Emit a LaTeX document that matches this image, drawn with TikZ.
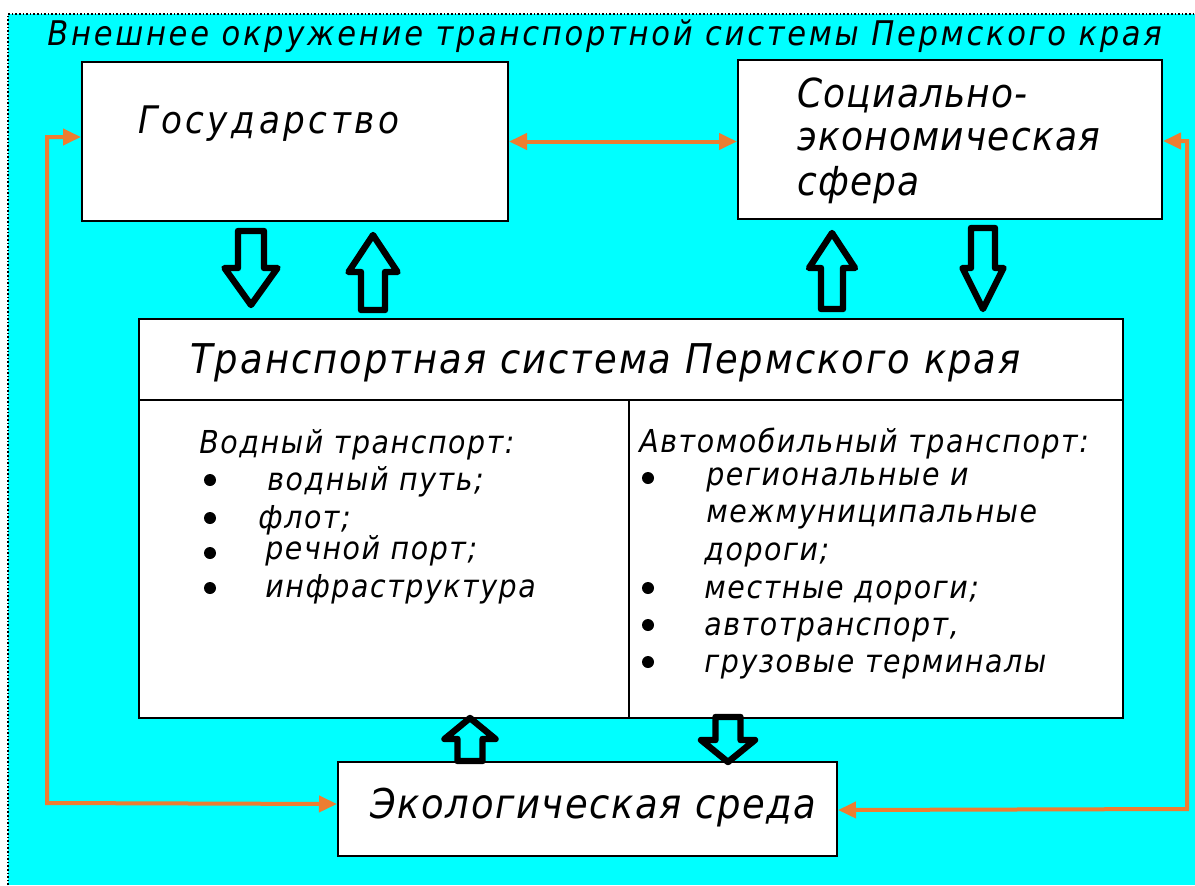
\documentclass[tikz,border=0pt]{standalone}
\usepackage{fontspec}
\newfontfamily\gost{DejaVu Sans Condensed}
\usetikzlibrary{arrows.meta,calc}
\definecolor{bgcyan}{RGB}{0,255,255}
\definecolor{orng}{RGB}{237,125,49}
\newcommand\gt[2]{\gost\itshape\fontsize{#1}{#1}\selectfont\addfontfeatures{LetterSpace=#2}}
\newcommand\blockarrow[6]{%
  \draw[blk] (#1,#2) -- (#1+#3,#4) -- (#1+#5,#4) -- (#1+#5,#6) -- (#1-#5,#6) -- (#1-#5,#4) -- (#1-#3,#4) -- cycle;}
\tikzset{
  box/.style={draw=black, line width=1pt, fill=white, anchor=north west, inner sep=0pt},
  txt/.style={anchor=base west, inner sep=0pt, text=black},
  oarr/.style={draw=orng, line width=2pt, {Triangle[length=9pt,width=8pt]}-{Triangle[length=9pt,width=8pt]}},
  blk/.style={draw=black, line width=3.2pt, line join=round},
  bullet/.style={circle, fill=black, inner sep=0pt, minimum size=6pt},
}
\begin{document}
\begin{tikzpicture}[x=0.5pt,y=-0.5pt]
\useasboundingbox (0,0) rectangle (1195,885);
\fill[bgcyan] (8,14) rectangle (1195,885);
\draw[black, line width=0.8pt, densely dotted] (8,885) -- (8,14) -- (1195,14);

\node[txt] (title) at (47,45) {\gt{17pt}{8}Внешнее окружение транспортной системы Пермского края};

\node[box, minimum width=213pt, minimum height=79.5pt] (gos) at (81,61) {};
\node[txt] (gost) at (138,133) {\gt{19pt}{9.5}Государство};

\node[box, minimum width=212pt, minimum height=79.5pt] (soc) at (737,59) {};
\node[txt] (soc1) at (797,107) {\gt{20pt}{3}Социально-};
\node[txt] (soc2) at (797,150) {\gt{20pt}{3}экономическая};
\node[txt] (soc3) at (797,195) {\gt{20pt}{3}сфера};

\node[box, minimum width=492pt, minimum height=199.5pt] (ts) at (138,318) {};
\draw[black, line width=1pt] (ts.west |- 0,400) -- (ts.east |- 0,400);
\draw[black, line width=1pt] (629,400) -- (629 ,0 |- ts.south);
\node[txt] (tst) at (190,373) {\gt{20.5pt}{5}Транспортная система Пермского края};

\node[txt] (w0) at (199,453) {\gt{15.8pt}{5}Водный транспорт:};
\node[bullet] (wb1) at (210,480) {};
\node[txt] (w1) at (267,490) {\gt{15.8pt}{5}водный путь;};
\node[bullet] (wb2) at (210,518) {};
\node[txt] (w2) at (258,528) {\gt{15.8pt}{5}флот;};
\node[bullet] (wb3) at (210,553) {};
\node[txt] (w3) at (265,559) {\gt{15.8pt}{5}речной порт;};
\node[bullet] (wb4) at (210,588) {};
\node[txt] (w4) at (265,597) {\gt{15.8pt}{5}инфраструктура};

\node[txt] (a0) at (639,452) {\gt{15.8pt}{5}Автомобильный транспорт:};
\node[bullet] (ab1) at (648,478) {};
\node[txt] (a1) at (706,485) {\gt{15.8pt}{5}региональные и};
\node[txt] (a1b) at (706,522) {\gt{15.8pt}{5}межмуниципальные};
\node[txt] (a1c) at (704,560) {\gt{15.8pt}{5}дороги;};
\node[bullet] (ab2) at (648,588) {};
\node[txt] (a2) at (704,598) {\gt{15.8pt}{5}местные дороги;};
\node[bullet] (ab3) at (648,625) {};
\node[txt] (a3) at (704,635) {\gt{15.8pt}{5}автотранспорт,};
\node[bullet] (ab4) at (648,662) {};
\node[txt] (a4) at (704,672) {\gt{15.8pt}{5}грузовые терминалы};

\node[box, minimum width=249.5pt, minimum height=47pt] (eco) at (337,761) {};
\node[txt] (ecot) at (370,818) {\gt{20.5pt}{4}Экологическая среда};

% block arrows
\blockarrow{251}{305}{26.5}{268}{13}{231}
\blockarrow{373}{235}{24.5}{272}{12}{310}
\blockarrow{832}{233}{23}{268}{11}{309}
\blockarrow{983}{309}{20.5}{268}{12}{228}
\blockarrow{470}{718}{25.5}{739}{12.5}{761}
\blockarrow{728}{762}{27}{740}{12.5}{717}

% orange connectors
\draw[oarr] (gos.east) -- (gos.east -| soc.west);
\draw[oarr] ([yshift=2.25pt]gos.west) -| (47,803) -- ([yshift=2.5pt]eco.west);
\draw[oarr] ([yshift=-0.75pt]soc.east) -| (1187,809) -- ([yshift=-0.5pt]eco.east);
\end{tikzpicture}
\end{document}
